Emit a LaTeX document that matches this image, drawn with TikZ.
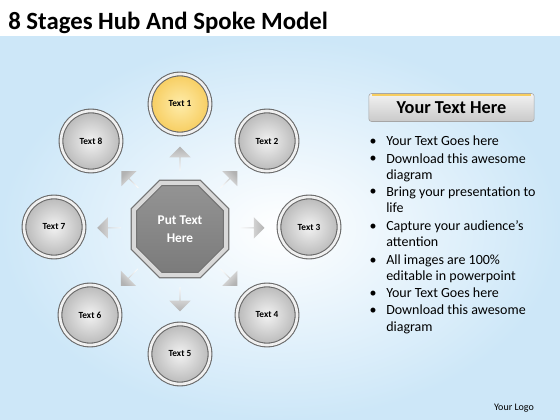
\documentclass[tikz,border=0pt]{standalone}
\usepackage{fontspec}
\setmainfont{Carlito}
\usetikzlibrary{calc,shapes.geometric,shapes.arrows}

\definecolor{skyblue}{RGB}{205,231,248}
\definecolor{ringgray}{RGB}{105,105,105}
\definecolor{facegray}{RGB}{185,185,185}
\definecolor{goldface}{RGB}{247,205,95}
\definecolor{goldlight}{RGB}{254,236,170}

\tikzset{
  stage/.style={circle, minimum size=45pt, inner sep=0pt, draw=ringgray, double=gray!12,
    double distance=2pt, line width=0.8pt, inner color=gray!10, outer color=facegray,
    font=\bfseries\fontsize{7}{8}\selectfont},
  stagegold/.style={stage, inner color=goldlight, outer color=goldface},
  spoke/.style={single arrow, single arrow head extend=4pt, minimum height=18pt,
    minimum width=16pt, inner sep=0pt, top color=gray!60, bottom color=white!95!gray,
    shading angle=#1-90, rotate=#1},
  bullettext/.style={anchor=base west, align=left, inner sep=0pt,
    font=\fontsize{10.5}{12.5}\selectfont},
  bulletdot/.style={anchor=base, inner sep=0pt, font=\fontsize{10.5}{12.5}\selectfont}
}

\begin{document}
\begin{tikzpicture}[x={0.75pt},y={-0.75pt}]
\useasboundingbox (0,0) rectangle (560,420);
\fill[white] (0,0) rectangle (560,420);
\shade[inner color=white, outer color=skyblue] (0,37) rectangle (560,420);

% title and logo
\node[anchor=base west, inner sep=0pt, font=\bfseries\fontsize{18.6}{22}\selectfont] (title) at (8,30) {8 Stages Hub And Spoke Model};
\node[font=\fontsize{7.5}{9}\selectfont] (logo) at (514,408) {Your Logo};

% hub
\node[regular polygon, regular polygon sides=8, minimum size=75pt, inner sep=0pt,
  draw=black!55, double=gray!30, double distance=3pt, line width=0.9pt,
  top color=black!42, bottom color=black!52, text=white, align=center,
  font=\bfseries\fontsize{10}{13.5}\selectfont] (hub) at (180,229) {Put Text\\Here};

% stages
\node[stagegold] (t1) at (180,104) {Text 1};
\node[stage] (t2) at (267,141) {Text 2};
\node[stage] (t3) at (309,227) {Text 3};
\node[stage] (t4) at (267,315) {Text 4};
\node[stage] (t5) at (180,354) {Text 5};
\node[stage] (t6) at (90,315) {Text 6};
\node[stage] (t7) at (54,227) {Text 7};
\node[stage] (t8) at (91,141) {Text 8};

% spokes
\node[spoke=90] (s1) at ($(hub)!0.56!(t1)$) {};
\node[spoke=45] (s2) at ($(hub)!0.56!(t2)$) {};
\node[spoke=0] (s3) at ($(hub)!0.56!(t3)$) {};
\node[spoke=-45] (s4) at ($(hub)!0.56!(t4)$) {};
\node[spoke=-90] (s5) at ($(hub)!0.56!(t5)$) {};
\node[spoke=-135] (s6) at ($(hub)!0.56!(t6)$) {};
\node[spoke=180] (s7) at ($(hub)!0.56!(t7)$) {};
\node[spoke=135] (s8) at ($(hub)!0.56!(t8)$) {};

% text panel
\node[rectangle, rounded corners=2pt, minimum width=124pt, minimum height=21pt,
  draw=gray!70, top color=gray!10, bottom color=gray!42,
  font=\bfseries\fontsize{13.7}{16}\selectfont] (headbox) at (451.5,107.5) {Your Text Here};
\draw[goldface, line width=1.8pt] ($(headbox.north west)+(3,1.5)$) -- ($(headbox.north east)+(-3,1.5)$);

\node[bulletdot] (d1) at (373,146) {•};
\node[bullettext] (item1) at (386,146) {Your Text Goes here};
\node[bulletdot] (d2) at (373,163) {•};
\node[bullettext] (item2) at (386,180) {Download this awesome\\diagram};
\node[bulletdot] (d3) at (373,196) {•};
\node[bullettext] (item3) at (386,213) {Bring your presentation to\\life};
\node[bulletdot] (d4) at (373,231) {•};
\node[bullettext] (item4) at (386,247) {Capture your audience’s\\attention};
\node[bulletdot] (d5) at (373,264) {•};
\node[bullettext] (item5) at (386,281) {All images are 100\%\\editable in powerpoint};
\node[bulletdot] (d6) at (373,297) {•};
\node[bullettext] (item6) at (386,297) {Your Text Goes here};
\node[bulletdot] (d7) at (373,314) {•};
\node[bullettext] (item7) at (386,331) {Download this awesome\\diagram};

\end{tikzpicture}
\end{document}
